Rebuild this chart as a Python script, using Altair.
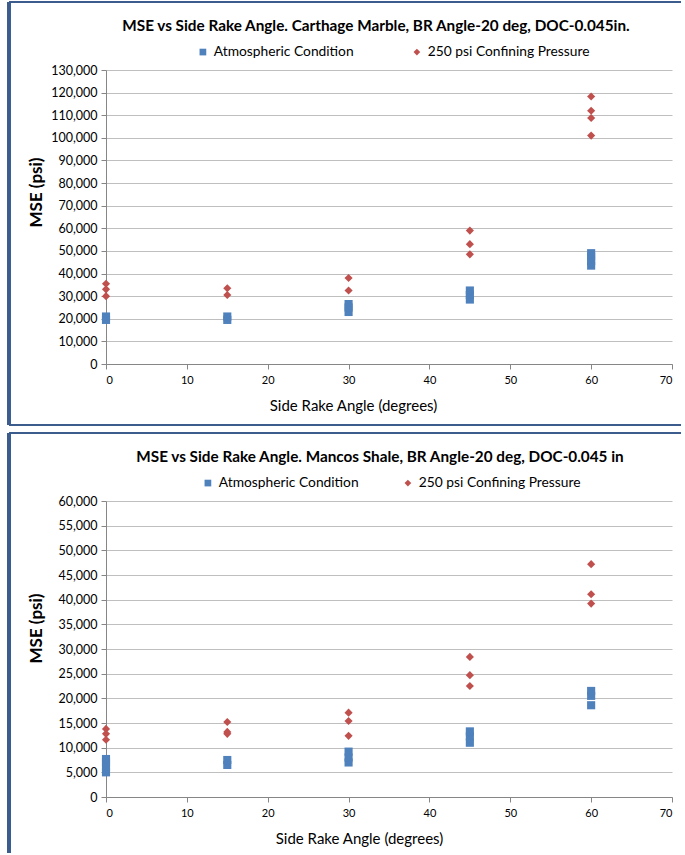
import altair as alt
import pandas as pd

FONT = "Lato"
SERIES = ["Atmospheric Condition", "250 psi Confining Pressure"]
COLORS = ["#4F81BD", "#C0504D"]
SHAPES = ["square", "diamond"]

# Carthage Marble
cm_atm_angle = [0, 0, 15, 15, 30, 30, 30, 45, 45, 45, 60, 60, 60, 60]
cm_atm_mse = [19500, 21000, 19500, 21000, 23000, 25000, 26500, 28500, 30500, 32500, 43500, 45500, 47500, 49000]
cm_conf_angle = [0, 0, 0, 15, 15, 30, 30, 45, 45, 45, 60, 60, 60, 60]
cm_conf_mse = [35500, 33000, 30000, 33500, 30500, 38000, 32500, 59000, 53000, 48500, 118300, 112000, 108800, 101000]

# Mancos Shale
ms_atm_angle = [0, 0, 0, 0, 15, 15, 30, 30, 30, 45, 45, 45, 60, 60, 60]
ms_atm_mse = [5000, 6000, 7000, 7700, 6500, 7500, 7000, 8000, 9200, 11000, 12300, 13300, 18600, 20500, 21500]
ms_conf_angle = [0, 0, 0, 15, 15, 15, 30, 30, 30, 45, 45, 45, 60, 60, 60]
ms_conf_mse = [13800, 12800, 11600, 15200, 13200, 12800, 17100, 15400, 12400, 28400, 24700, 22500, 47200, 41100, 39200]

x_ticks = [0, 10, 20, 30, 40, 50, 60, 70]
cm_y_ticks = list(range(0, 130001, 10000))
ms_y_ticks = list(range(0, 60001, 5000))

cm_title = "MSE vs Side Rake Angle. Carthage  Marble, BR Angle-20 deg, DOC-0.045in."
ms_title = "MSE vs Side Rake Angle. Mancos Shale, BR Angle-20 deg, DOC-0.045 in"


def frame(a1, m1, a2, m2):
    return pd.DataFrame({
        "angle": a1 + a2,
        "mse": m1 + m2,
        "series": [SERIES[0]] * len(a1) + [SERIES[1]] * len(a2),
    })


BORDER = "#3B5C8C"


def panel(df, title, ymax, yticks, w, h, title_x, xtitle_x, ytitle_y, legend_x, legend_y,
          col_pad, box_bottom, bottom_edge):
    base = alt.Chart(df)
    pts = base.mark_point(filled=True, opacity=1, size=66).encode(
        x=alt.X("angle:Q", scale=alt.Scale(domain=[0, 70], nice=False),
                axis=alt.Axis(values=x_ticks, title="Side Rake Angle (degrees)", grid=False,
                              labelFontSize=11, labelColor="#000000", labelFont=FONT,
                              titleFont=FONT, titleFontSize=15, titleFontWeight="normal",
                              titleColor="#000000", titleX=xtitle_x, titleY=34,
                              domainColor="#868686", tickColor="#868686", tickSize=5,
                              labelPadding=5)),
        y=alt.Y("mse:Q", scale=alt.Scale(domain=[0, ymax], nice=False),
                axis=alt.Axis(values=yticks, format=",d", title="MSE (psi)",
                              labelFontSize=12.5, labelColor="#000000", labelFont=FONT,
                              titleFont=FONT, titleFontSize=17, titleFontWeight="bold",
                              titleColor="#000000", titleAngle=-90, titleX=-70,
                              titleY=ytitle_y, titleBaseline="middle", titleAlign="center",
                              gridColor="#BFBFBF", gridWidth=1,
                              domainColor="#868686", tickColor="#868686", tickSize=5,
                              labelPadding=4)),
        color=alt.Color("series:N", scale=alt.Scale(domain=SERIES, range=COLORS),
                        legend=alt.Legend(title=None, orient="none", direction="horizontal",
                                          legendX=legend_x, legendY=legend_y,
                                          labelFont=FONT, labelFontSize=13.8, labelColor="#000000",
                                          labelLimit=0, symbolSize=45, columnPadding=col_pad,
                                          labelOffset=4)),
        shape=alt.Shape("series:N", scale=alt.Scale(domain=SERIES, range=SHAPES), legend=None),
    )
    title_mark = alt.Chart(pd.DataFrame({"t": [title]})).mark_text(
        font=FONT, fontSize=15.3, fontWeight="bold", color="#000000",
        align="center", baseline="middle").encode(
        text="t:N", x=alt.value(title_x), y=alt.value(-44))
    top_rule = base.mark_rule(color=BORDER, strokeWidth=2.2).encode(
        x=alt.value(-97), x2=alt.value(575), y=alt.value(-68))
    left_rule = base.mark_rule(color=BORDER, strokeWidth=2.2).encode(
        x=alt.value(-97), y=alt.value(-68), y2=alt.value(box_bottom))
    layers = [top_rule, left_rule]
    if bottom_edge:
        layers.append(base.mark_rule(color=BORDER, strokeWidth=2.2).encode(
            x=alt.value(-97), x2=alt.value(575), y=alt.value(box_bottom)))
    layers += [title_mark, pts]
    return alt.layer(*layers).properties(width=w, height=h).resolve_scale(
        color="independent", shape="independent")


top = panel(frame(cm_atm_angle, cm_atm_mse, cm_conf_angle, cm_conf_mse), cm_title,
            130000, cm_y_ticks, 566, 294, 270, 247, 122, 90, -25, 56, 355, True)
bottom = panel(frame(ms_atm_angle, ms_atm_mse, ms_conf_angle, ms_conf_mse), ms_title,
               60000, ms_y_ticks, 566, 296, 274, 253, 127, 95, -25, 42, 352, False)

chart = alt.vconcat(top, bottom, spacing=4).resolve_scale(
    color="independent", shape="independent").resolve_legend(
    color="independent", shape="independent").properties(
    padding={"left": 7, "top": 0, "right": 0, "bottom": 0},
    background="#FFFFFF",
).configure_view(stroke=None)

chart.save("out.html", embed_options={"renderer": "svg", "actions": False})
